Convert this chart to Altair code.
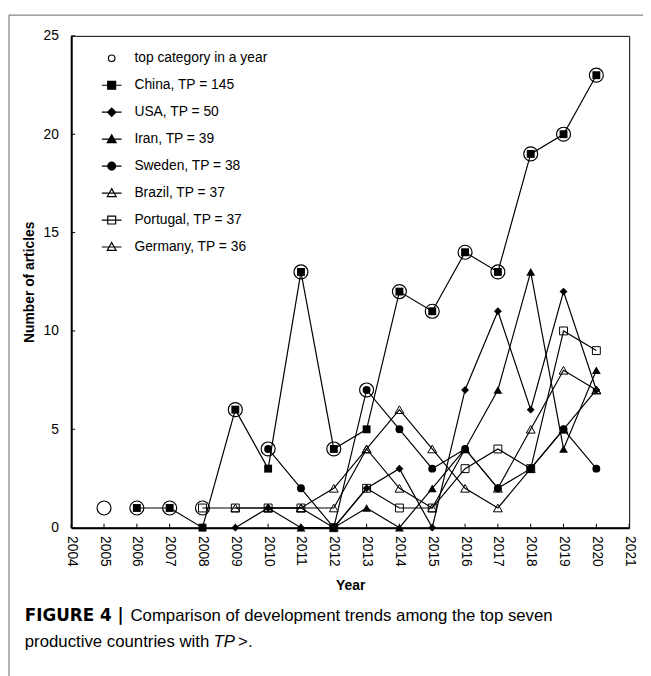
import altair as alt
import pandas as pd

years = list(range(2005, 2021))
china = [None, 1, 1, 0, 6, 3, 13, 4, 5, 12, 11, 14, 13, 19, 20, 23]
usa = [None, None, None, None, 0, 1, 0, 0, 2, 3, 0, 7, 11, 6, 12, 7]
iran = [None] * 6 + [0, 0, 1, 0, 2, 4, 7, 13, 4, 8]
sweden = [None] * 5 + [4, 2, 0, 7, 5, 3, 4, 2, 3, 5, 3]
brazil = [None] * 4 + [1, 1, 1, 2, 4, 6, 4, 2, 1, 3, 5, 7]
portugal = [None] * 3 + [1, 1, 1, 1, 0, 2, 1, 1, 3, 4, 3, 10, 9]
germany = [None] * 5 + [1, 1, 1, 4, 2, 1, 4, 2, 5, 8, 7]
top_category = [1, 1, 1, 1, 6, 4, 13, 4, 7, 12, 11, 14, 13, 19, 20, 23]

countries = ["China", "USA", "Iran", "Sweden", "Brazil", "Portugal", "Germany"]
tp_values = [145, 50, 39, 38, 37, 37, 36]
series_values = [china, usa, iran, sweden, brazil, portugal, germany]
marker_shapes = ["square", "diamond", "triangle-up", "circle", "triangle-up", "square", "triangle-up"]
marker_filled = [True, True, True, True, False, False, False]
marker_sizes = [64, 64, 80, 64, 80, 64, 80]

x_ticks = list(range(2004, 2022))
y_ticks = [0, 5, 10, 15, 20, 25]

FONT = "Liberation Sans"
W, H = 565, 498

rows = []
for c, vals in zip(countries, series_values):
    for yr, v in zip(years, vals):
        if v is not None:
            rows.append({"year": yr, "value": v, "country": c})
df = pd.DataFrame(rows)
top_df = pd.DataFrame({"year": years, "value": top_category})

X_AXIS = alt.Axis(values=x_ticks, format="d", labelAngle=90, labelFlush=False,
                  labelOverlap=False, labelPadding=8, title="Year", titlePadding=12)
Y_AXIS = alt.Axis(values=y_ticks, labelPadding=13, title="Number of articles",
                  titlePadding=7, labelOverlap=False)
X_SCALE = alt.Scale(domain=[2004, 2021], nice=False, zero=False)
Y_SCALE = alt.Scale(domain=[0, 25], nice=False)


def xe():
    return alt.X("year:Q", scale=X_SCALE, axis=X_AXIS)


def ye():
    return alt.Y("value:Q", scale=Y_SCALE, axis=Y_AXIS)


base = alt.Chart(df)
lines = base.mark_line(color="black", strokeWidth=1.2).encode(
    x=xe(), y=ye(), detail="country:N", order="year:Q")

point_layers = []
for c, shp, filled, sz in zip(countries, marker_shapes, marker_filled, marker_sizes):
    point_layers.append(
        base.transform_filter(alt.datum.country == c).mark_point(
            shape=shp, filled=filled, color="black", size=sz, strokeWidth=1, opacity=1
        ).encode(x=xe(), y=ye())
    )

tops = alt.Chart(top_df).mark_point(shape="circle", size=200, filled=False, color="black",
                                    strokeWidth=1.2, opacity=1).encode(x=xe(), y=ye())

# legend (custom line+marker symbols)
legend_labels = ["top category in a year"] + [f"{c}, TP = {t}" for c, t in zip(countries, tp_values)]
sq = "M-0.4,-0.4H0.4V0.4H-0.4Z"
di = "M-0.42,0L0,-0.42L0.42,0L0,0.42Z"
tr = "M0,-0.45L0.45,0.35H-0.45Z"
ci = "M0.4,0A0.4,0.4 0 1,1 -0.4,0A0.4,0.4 0 1,1 0.4,0Z"
ln = "M-1,0H1"
legend_paths = ["M0.33,0A0.33,0.33 0 1,1 -0.33,0A0.33,0.33 0 1,1 0.33,0Z",
                ln + sq, ln + di, ln + tr, ln + ci, ln + tr, ln + sq, ln + tr]
legend_fills = ["transparent", "black", "black", "black", "black",
                "transparent", "transparent", "transparent"]
leg = alt.Legend(title=None, orient="none", legendX=30, legendY=11.7, labelFont=FONT,
                 labelFontSize=14, labelColor="black", symbolOpacity=1,
                 symbolStrokeWidth=1.2, symbolSize=400, rowPadding=9.3, labelOffset=12,
                 padding=0, labelLimit=400)
legend_layer = alt.Chart(pd.DataFrame({"label": legend_labels})).transform_filter(
    "false").mark_point(filled=False, color="black", opacity=1, strokeWidth=1.2, size=400).encode(
    shape=alt.Shape("label:N", scale=alt.Scale(domain=legend_labels, range=legend_paths), legend=leg),
    fill=alt.Fill("label:N", scale=alt.Scale(domain=legend_labels, range=legend_fills), legend=leg),
)

# inward ticks
ytick_layer = alt.Chart(pd.DataFrame({"value": y_ticks})).mark_rule(color="black", strokeWidth=1).encode(
    y=ye(), x=alt.value(0), x2=alt.value(4))
xtick_layer = alt.Chart(pd.DataFrame({"year": x_ticks})).mark_rule(color="black", strokeWidth=1).encode(
    x=xe(), y=alt.value(H), y2=alt.value(H - 4))

# caption
one = pd.DataFrame({"k": [0]})


def txt(s, x, y, weight="normal", style="normal", font=FONT, size=17):
    return alt.Chart(one).mark_text(align="left", baseline="alphabetic", font=font, fontSize=size,
                                    fontWeight=weight, fontStyle=style, color="black").encode(
        x=alt.value(x), y=alt.value(y), text=alt.value(s))


caption = [
    txt("FIGURE 4 |", -47, 593, weight="bold", font="DejaVu Sans", size=17),
    txt("Comparison of development trends among the top seven", 60, 593),
    txt("productive countries with", -47, 619),
    txt("TP", 144, 619, style="italic"),
    txt(">.", 169, 619),
]

frame_top = alt.Chart(one).mark_rule(color="#666666", strokeWidth=1).encode(
    x=alt.value(-63), x2=alt.value(600), y=alt.value(-21))
frame_left = alt.Chart(one).mark_rule(color="#666666", strokeWidth=1).encode(
    x=alt.value(-63), y=alt.value(-21), y2=alt.value(700))

chart = alt.layer(
    lines, *point_layers, tops, legend_layer, ytick_layer, xtick_layer, *caption, frame_top, frame_left
).properties(
    width=W, height=H,
    autosize=alt.AutoSizeParams(type="none"),
    padding={"left": 64, "top": 24, "right": 14, "bottom": 146},
).configure_view(stroke="black", strokeWidth=1).configure_axis(
    domainColor="black", domainWidth=2, tickSize=0, grid=False, labelOverlap=False,
    labelFont=FONT, labelFontSize=14, labelColor="black",
    titleFont=FONT, titleFontSize=14, titleFontWeight="bold", titleColor="black",
)

chart.save("out.html", embed_options={"renderer": "svg", "actions": False})
